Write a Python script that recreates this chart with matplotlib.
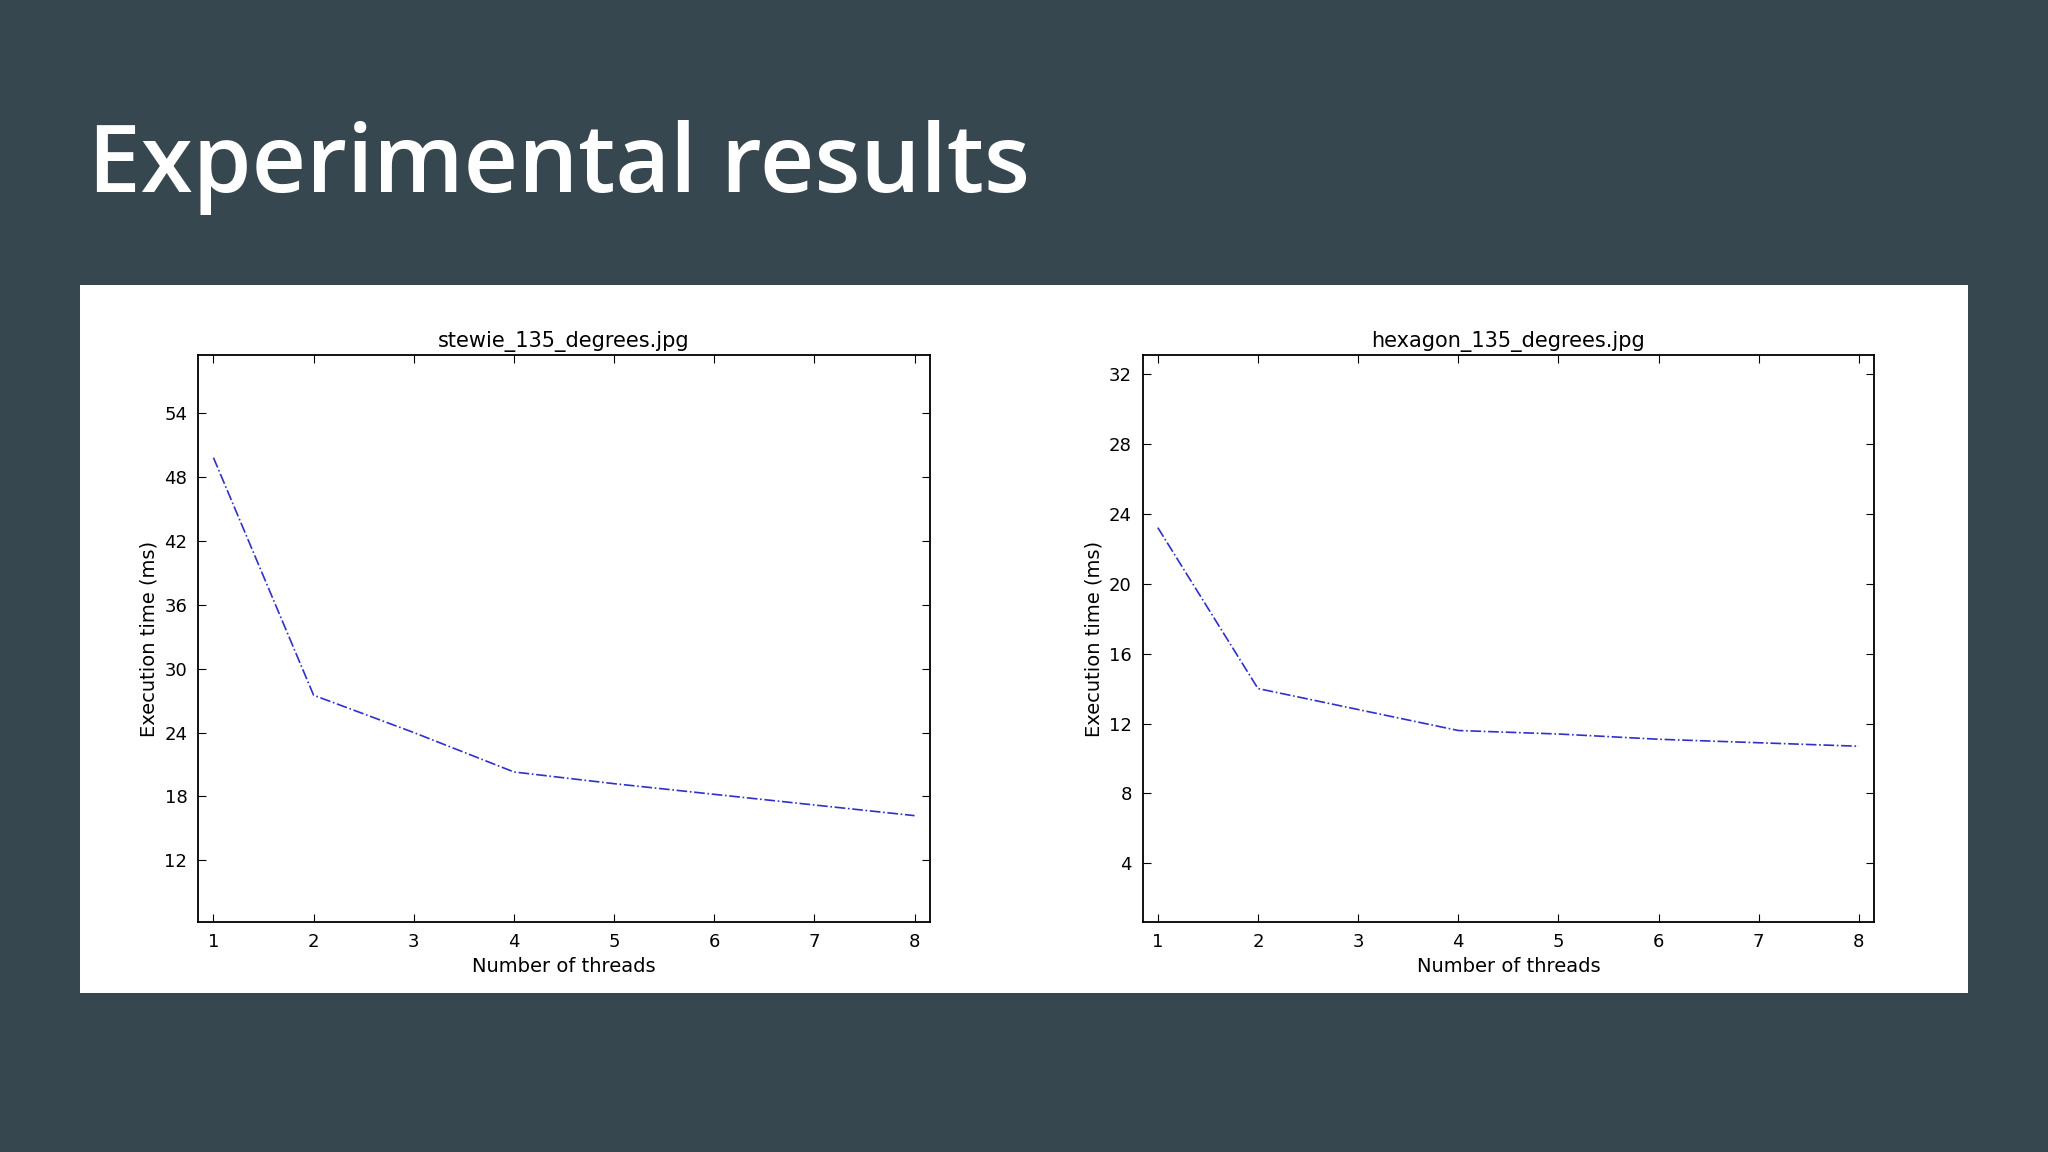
import matplotlib
matplotlib.use("Agg")
import matplotlib.pyplot as plt
from matplotlib.patches import Rectangle

threads = [1, 2, 3, 4, 5, 6, 7, 8]
stewie_ms = [49.8, 27.5, 24.0, 20.3, 19.2, 18.2, 17.2, 16.2]
hexagon_ms = [23.2, 14.0, 12.8, 11.6, 11.4, 11.1, 10.9, 10.7]
stewie_yticks = [12, 18, 24, 30, 36, 42, 48, 54]
hexagon_yticks = [4, 8, 12, 16, 20, 24, 28, 32]

bg = "#37474f"
fig = plt.figure(figsize=(20.48, 11.52), dpi=100, facecolor=bg)
fig.text(0.043, 0.855, "Experimental results", color="white", fontsize=68,
         fontfamily="Open Sans", va="center", ha="left", fontstretch="condensed",
         fontweight="semibold")
fig.add_artist(Rectangle((0.039, 0.138), 0.922, 0.615, transform=fig.transFigure,
                         facecolor="white", edgecolor="none", zorder=-5))

def panel(left, y, title, yticks, ylim):
    ax = fig.add_axes([left, 0.1995, 0.357, 0.492])
    ax.set_zorder(2)
    ax.plot(threads, y, color="#3030cc", linestyle="-.", linewidth=1.2)
    ax.set_xlim(0.85, 8.15)
    ax.set_ylim(*ylim)
    ax.set_xticks(threads)
    ax.set_yticks(yticks)
    ax.tick_params(direction="in", top=True, right=True, labelsize=13, length=6, pad=8)
    ax.set_title(title, fontsize=15, pad=6)
    ax.set_xlabel("Number of threads", fontsize=14)
    ax.set_ylabel("Execution time (ms)", fontsize=14)
    for s in ax.spines.values():
        s.set_linewidth(1.3)

panel(0.0969, stewie_ms, "stewie_135_degrees.jpg", stewie_yticks, (6.2, 59.4))
panel(0.558, hexagon_ms, "hexagon_135_degrees.jpg", hexagon_yticks, (0.64, 33.05))

fig.savefig("out.png", dpi=100, facecolor=bg)
